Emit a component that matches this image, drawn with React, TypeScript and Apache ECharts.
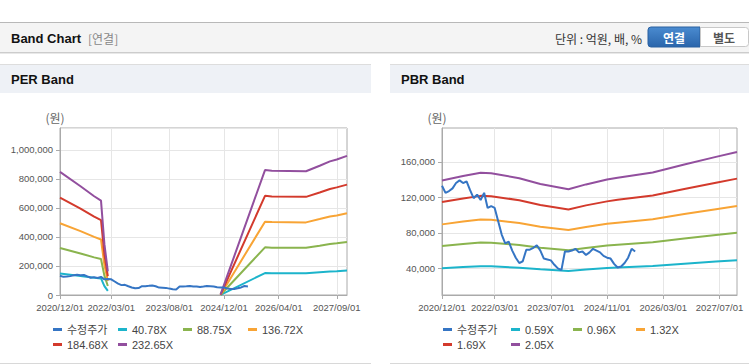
import React, { useEffect, useRef } from 'react';
import * as echarts from 'echarts';

// ---------- categories (monthly, 2020/12 .. 2027/12) ----------
const months: string[] = (() => {
  const a: string[] = [];
  for (let i = 0; i < 85; i++) {
    const m = 11 + i;
    const y = 2020 + Math.floor(m / 12);
    const mm = (m % 12) + 1;
    a.push(`${y}/${String(mm).padStart(2, '0')}/01`);
  }
  return a;
})();

const perTickLabels = ['2020/12/01', '2022/03/01', '2023/08/01', '2024/12/01', '2026/04/01', '2027/09/01'];
const pbrTickLabels = ['2020/12/01', '2022/03/01', '2023/07/01', '2024/11/01', '2026/03/01', '2027/07/01'];

const perYTicks = [0, 200000, 400000, 600000, 800000, 1000000];
const pbrYTicks = [40000, 80000, 120000, 160000];

// ---------- adjusted price (수정주가), monthly from 2020/12 ----------
const priceValues = [
  133000, 125000, 127000, 130000, 136000, 139000, 136000, 138000, 128000, 119000,
  123000, 117000, 125000, 108000, 110000, 108000, 93000, 78000, 68000, 70000,
  60000, 52000, 46000, 48000, 61000, 61000, 63000, 66000, 60000, 51000,
  50000, 49000, 44000, 40000, 38000, 59000, 59000, 60000, 62000, 58000,
  59000, 55000, 58000, 62000, 60000, 58000, 54000, 52000, 51000, 45000,
  41000, 42000, 46000, 52000, 62000, 59000,
];

// ---------- PER band ----------
const perNames = ['40.78X', '88.75X', '136.72X', '184.68X', '232.65X'];
const perBandDates = [
  '2020/12/01', '2021/06/01', '2021/10/01', '2021/12/01', '2022/01/01', '2022/02/01',
  '2023/06/01',
  '2024/11/01', '2025/12/01', '2026/02/01', '2026/12/01', '2027/04/01', '2027/07/01', '2027/09/01', '2027/12/01',
];
const per40 = [148000, 131000, 119000, 114000, 61000, 28000, null, 700, 151000, 150000, 149000, 156000, 161000, 163500, 168000];
const per88 = [324000, 286000, 259000, 248000, 133000, 62000, null, 1500, 328000, 326000, 325000, 339500, 351000, 356000, 365000];
const per136 = [494000, 440000, 400000, 382000, 206000, 96000, null, 2300, 505000, 502000, 500000, 523000, 541000, 548000, 563000];
const per184 = [670000, 595000, 540000, 516000, 278000, 129000, null, 3200, 683000, 679000, 676000, 706000, 730000, 741000, 760000];
const per232 = [848000, 749000, 680000, 650000, 350000, 163000, null, 4000, 860000, 855000, 852000, 890000, 920000, 933000, 958000];

// ---------- PBR band ----------
const pbrNames = ['0.59X', '0.96X', '1.32X', '1.69X', '2.05X'];
const pbrBandDates = [
  '2020/12/01', '2021/06/01', '2021/11/01', '2022/02/01', '2022/10/01', '2023/04/01', '2023/12/01',
  '2024/05/01', '2024/11/01', '2025/02/01', '2025/12/01', '2026/09/01', '2027/06/01', '2027/12/01',
];
const pbr059 = [40000, 41400, 42400, 42300, 40700, 38900, 37100, 38700, 40300, 40900, 42600, 45200, 47600, 49200];
const pbr096 = [65100, 67400, 69100, 68800, 66300, 63200, 60400, 63000, 65600, 66500, 69300, 73500, 77500, 80100];
const pbr132 = [89500, 92700, 95000, 94700, 91100, 86900, 83100, 86600, 90100, 91400, 95300, 101100, 106600, 110100];
const pbr169 = [114600, 118700, 121600, 121200, 116700, 111300, 106300, 110900, 115400, 117100, 122000, 129400, 136400, 141000];
const pbr205 = [139000, 144000, 147500, 147000, 141500, 135000, 129000, 134500, 140000, 142000, 148000, 157000, 165500, 171000];

const PRICE_NAME = '수정주가';
const BAND_COLORS = ['#1cb4cb', '#8ab44e', '#f8a435', '#d33a2c', '#924f9e'];
const PRICE_COLOR = '#3575c4';

const AXIS_FONT = "'Liberation Sans', Arial, sans-serif";
const TEXT_FONT = "'Liberation Sans', 'Noto Sans CJK KR', sans-serif";
const AXIS_FONT_SIZE = 9.5;

function fmt(v: number) {
  return v.toLocaleString('en-US');
}

function band(name: string, dates: string[], values: (number | null)[], color: string, idx: number) {
  return {
    name,
    type: 'line',
    xAxisIndex: idx,
    yAxisIndex: idx,
    data: dates.map((d, i) => [d, values[i]]),
    symbol: 'none',
    connectNulls: false,
    lineStyle: { width: 2, color },
    itemStyle: { color },
    z: 2,
  };
}

function price(idx: number) {
  return {
    name: PRICE_NAME,
    type: 'line',
    xAxisIndex: idx,
    yAxisIndex: idx,
    data: priceValues,
    symbol: 'none',
    lineStyle: { width: 2, color: PRICE_COLOR },
    itemStyle: { color: PRICE_COLOR },
    z: 3,
  };
}

function xAxis(gridIndex: number, ticks: string[]) {
  const f = (_i: number, v: string) => ticks.includes(v);
  return {
    type: 'category',
    gridIndex,
    data: months,
    boundaryGap: false,
    axisLine: { lineStyle: { color: '#aaaaaa' } },
    axisTick: { show: true, interval: f, length: 4, lineStyle: { color: '#aaaaaa' } },
    axisLabel: {
      interval: f,
      showMinLabel: true,
      hideOverlap: false,
      color: '#555',
      fontSize: AXIS_FONT_SIZE,
      fontFamily: AXIS_FONT,
      margin: 7,
    },
    splitLine: { show: true, interval: f, lineStyle: { color: '#e6e6e6' } },
  };
}

export default function App() {
  const ref = useRef<HTMLDivElement>(null);

  useEffect(() => {
    document.body.style.margin = '0';
    if (!ref.current) return;
    const chart = echarts.init(ref.current, null, { renderer: 'svg' });

    const legendText = { color: '#444', fontSize: 11, fontFamily: TEXT_FONT, lineHeight: 15 };

    const pbrLegendWidths = [54, 48, 49, 40, 54, 40];
    const pbrLegendNames = [PRICE_NAME, ...pbrNames];

    const option: any = {
      animation: false,
      backgroundColor: '#ffffff',
      textStyle: { fontFamily: TEXT_FONT },
      graphic: [
        // header
        { type: 'rect', shape: { x: 0, y: 22, width: 749, height: 31 }, style: { fill: '#f4f4f4' }, silent: true },
        { type: 'line', shape: { x1: 0, y1: 22.5, x2: 749, y2: 22.5 }, style: { stroke: '#b8b8b8', lineWidth: 1 } },
        { type: 'line', shape: { x1: 0, y1: 52.5, x2: 749, y2: 52.5 }, style: { stroke: '#cccccc', lineWidth: 1 } },
        { type: 'line', shape: { x1: 0, y1: 53.5, x2: 749, y2: 53.5 }, style: { stroke: '#e8e8e8', lineWidth: 1 } },
        { type: 'text', x: 11, y: 38, style: { text: 'Band Chart', font: "bold 13px 'Liberation Sans', sans-serif", fill: '#111', verticalAlign: 'middle' } },
        { type: 'text', x: 88, y: 38, style: { text: '[연결]', font: "12px 'Noto Sans CJK KR', sans-serif", fill: '#888', verticalAlign: 'middle' } },
        { type: 'text', x: 642, y: 38, style: { text: '단위 : 억원, 배, %', font: "12px 'Noto Sans CJK KR', sans-serif", fill: '#333', align: 'right', verticalAlign: 'middle' } },
        {
          type: 'rect',
          shape: { x: 648, y: 27, width: 52, height: 20, r: [3, 0, 0, 3] },
          style: {
            fill: new echarts.graphic.LinearGradient(0, 0, 0, 1, [
              { offset: 0, color: '#4a8bd0' },
              { offset: 1, color: '#2a65ab' },
            ]),
            stroke: '#2a60a0',
            lineWidth: 1,
          },
        },
        { type: 'text', x: 674, y: 37.5, style: { text: '연결', font: "bold 12px 'Noto Sans CJK KR', sans-serif", fill: '#ffffff', align: 'center', verticalAlign: 'middle' } },
        { type: 'rect', shape: { x: 700.5, y: 27.5, width: 48, height: 19, r: [0, 3, 3, 0] }, style: { fill: '#ffffff', stroke: '#c8c8c8', lineWidth: 1 } },
        { type: 'text', x: 724, y: 37.5, style: { text: '별도', font: "bold 12px 'Noto Sans CJK KR', sans-serif", fill: '#555', align: 'center', verticalAlign: 'middle' } },

        // left panel
        { type: 'line', shape: { x1: 0, y1: 64.5, x2: 371, y2: 64.5 }, style: { stroke: '#dddddd', lineWidth: 1 } },
        { type: 'rect', shape: { x: 0, y: 65, width: 371, height: 28 }, style: { fill: '#eef1f6' } },
        { type: 'text', x: 11, y: 79.5, style: { text: 'PER Band', font: "bold 13px 'Liberation Sans', sans-serif", fill: '#111', verticalAlign: 'middle' } },
        { type: 'line', shape: { x1: 0, y1: 363.5, x2: 371, y2: 363.5 }, style: { stroke: '#d8d8d8', lineWidth: 1 } },

        // right panel
        { type: 'line', shape: { x1: 390, y1: 64.5, x2: 749, y2: 64.5 }, style: { stroke: '#dddddd', lineWidth: 1 } },
        { type: 'rect', shape: { x: 390, y: 65, width: 359, height: 28 }, style: { fill: '#eef1f6' } },
        { type: 'text', x: 401, y: 79.5, style: { text: 'PBR Band', font: "bold 13px 'Liberation Sans', sans-serif", fill: '#111', verticalAlign: 'middle' } },
        { type: 'line', shape: { x1: 390, y1: 363.5, x2: 749, y2: 363.5 }, style: { stroke: '#d8d8d8', lineWidth: 1 } },
      ],
      grid: [
        { left: 60, top: 128, width: 287, height: 167, show: true, borderColor: '#aaaaaa', borderWidth: 1, containLabel: false },
        { left: 442, top: 128, width: 295, height: 167, show: true, borderColor: '#aaaaaa', borderWidth: 1, containLabel: false },
      ],
      xAxis: [xAxis(0, perTickLabels), xAxis(1, pbrTickLabels)],
      yAxis: [
        {
          type: 'value',
          gridIndex: 0,
          min: 0,
          max: 1150000,
          interval: 200000,
          name: '(원)',
          nameLocation: 'end',
          nameGap: 5,
          nameTextStyle: { color: '#666', fontSize: 12, fontFamily: "'Noto Sans CJK KR', sans-serif", padding: [0, 10, 0, 0] },
          axisLine: { show: true, lineStyle: { color: '#aaaaaa' } },
          axisTick: { show: true, length: 4, lineStyle: { color: '#aaaaaa' } },
          axisLabel: {
            color: '#555', fontSize: AXIS_FONT_SIZE, fontFamily: AXIS_FONT, margin: 7, showMaxLabel: false,
            formatter: (v: number) => (perYTicks.includes(v) ? fmt(v) : ''),
          },
          splitLine: { show: true, lineStyle: { color: '#e6e6e6' } },
        },
        {
          type: 'value',
          gridIndex: 1,
          min: 10000,
          max: 198000,
          name: '(원)',
          nameLocation: 'end',
          nameGap: 5,
          nameTextStyle: { color: '#666', fontSize: 12, fontFamily: "'Noto Sans CJK KR', sans-serif", padding: [0, 10, 0, 0] },
          axisLine: { show: true, lineStyle: { color: '#aaaaaa' } },
          axisTick: { show: true, length: 4, customValues: pbrYTicks, lineStyle: { color: '#aaaaaa' } },
          axisLabel: {
            color: '#555', fontSize: AXIS_FONT_SIZE, fontFamily: AXIS_FONT, margin: 7,
            customValues: pbrYTicks,
            formatter: (v: number) => fmt(v),
          },
          splitLine: { show: true, lineStyle: { color: '#e6e6e6' } },
        },
      ],
      legend: [
        {
          left: 53,
          top: 322,
          width: 270,
          padding: 0,
          itemGap: 0,
          itemWidth: 9,
          itemHeight: 3,
          icon: 'rect',
          textStyle: { ...legendText, width: 51 },
          data: [PRICE_NAME, ...perNames],
        },
        {
          left: 443,
          top: 322,
          width: 262,
          padding: 0,
          itemGap: 0,
          itemWidth: 9,
          itemHeight: 3,
          icon: 'rect',
          textStyle: { ...legendText },
          data: pbrLegendNames.map((n, i) => ({ name: n, textStyle: { ...legendText, width: pbrLegendWidths[i] } })),
        },
      ],
      series: [
        band(perNames[0], perBandDates, per40, BAND_COLORS[0], 0),
        band(perNames[1], perBandDates, per88, BAND_COLORS[1], 0),
        band(perNames[2], perBandDates, per136, BAND_COLORS[2], 0),
        band(perNames[3], perBandDates, per184, BAND_COLORS[3], 0),
        band(perNames[4], perBandDates, per232, BAND_COLORS[4], 0),
        price(0),
        band(pbrNames[0], pbrBandDates, pbr059, BAND_COLORS[0], 1),
        band(pbrNames[1], pbrBandDates, pbr096, BAND_COLORS[1], 1),
        band(pbrNames[2], pbrBandDates, pbr132, BAND_COLORS[2], 1),
        band(pbrNames[3], pbrBandDates, pbr169, BAND_COLORS[3], 1),
        band(pbrNames[4], pbrBandDates, pbr205, BAND_COLORS[4], 1),
        price(1),
      ],
    };

    chart.setOption(option);
    return () => chart.dispose();
  }, []);

  return <div ref={ref} style={{ position: 'absolute', left: 0, top: 0, width: 749, height: 364 }} />;
}
